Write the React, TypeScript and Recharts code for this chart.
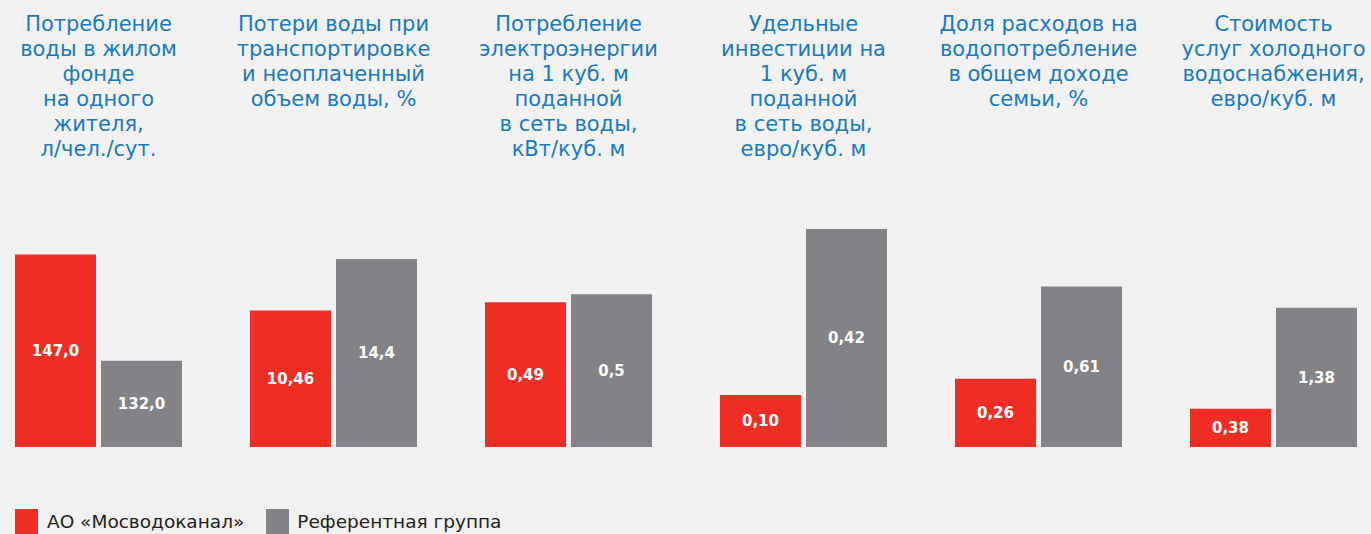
import React from "react";
import { Bar, BarChart, LabelList, XAxis, YAxis } from "recharts";

const titles = [
  ["Потребление", "воды в жилом", "фонде", "на одного", "жителя,", "л/чел./сут."],
  ["Потери воды при", "транспортировке", "и неоплаченный", "объем воды, %"],
  ["Потребление", "электроэнергии", "на 1 куб. м", "поданной", "в сеть воды,", "кВт/куб. м"],
  ["Удельные", "инвестиции на", "1 куб. м", "поданной", "в сеть воды,", "евро/куб. м"],
  ["Доля расходов на", "водопотребление", "в общем доходе", "семьи, %"],
  ["Стоимость", "услуг холодного", "водоснабжения,", "евро/куб. м"],
];

const mosvodokanalLabels = ["147,0", "10,46", "0,49", "0,10", "0,26", "0,38"];
const referenceLabels = ["132,0", "14,4", "0,5", "0,42", "0,61", "1,38"];

const mosvodokanalValues = [147.0, 10.46, 0.49, 0.1, 0.26, 0.38];
const referenceValues = [132.0, 14.4, 0.5, 0.42, 0.61, 1.38];

// each panel has its own scale in the original
const axisMin = [119.8, 0, 0.309, 0, 0, 0];
const axisMax = [150.6, 16.7, 0.5815, 0.42, 0.829, 2.16];

const seriesNames = ["АО «Мосводоканал»", "Референтная группа"];

const RED = "#ee2e24";
const GRAY = "#838387";
const BLUE = "#1a7ac0";
const FONT = "'DejaVu Sans', Verdana, sans-serif";

const PANEL_W = 235;

const Panel: React.FC<{ index: number }> = ({ index }) => {
  const data = [
    {
      name: "p" + index,
      moscow: mosvodokanalValues[index],
      reference: referenceValues[index],
      moscowLabel: mosvodokanalLabels[index],
      referenceLabel: referenceLabels[index],
    },
  ];
  const labelStyle = { fill: "#ffffff", fontSize: 15, fontWeight: 700, fontFamily: FONT };
  return (
    <div style={{ position: "absolute", left: index * PANEL_W, top: 0, width: PANEL_W, height: 534 }}>
      <div
        style={{
          position: "absolute",
          left: 98.5,
          top: 12,
          transform: "translateX(-50%)",
          whiteSpace: "nowrap",
          textAlign: "center",
          color: BLUE,
          fontFamily: FONT,
          fontSize: 21,
          lineHeight: "25px",
        }}
      >
        {titles[index].map((line, i) => (
          <div key={i}>{line}</div>
        ))}
      </div>
      <div style={{ position: "absolute", left: 0, top: 219 }}>
        <BarChart
          width={PANEL_W}
          height={238}
          data={data}
          margin={{ top: 10, right: 53, bottom: 10, left: 15 }}
          barCategoryGap={0}
          barGap={5}
        >
          <XAxis dataKey="name" hide />
          <YAxis hide domain={[axisMin[index], axisMax[index]]} allowDataOverflow />
          <Bar dataKey="moscow" fill={RED} isAnimationActive={false}>
            <LabelList dataKey="moscowLabel" position="center" style={labelStyle} />
          </Bar>
          <Bar dataKey="reference" fill={GRAY} isAnimationActive={false}>
            <LabelList dataKey="referenceLabel" position="center" style={labelStyle} />
          </Bar>
        </BarChart>
      </div>
    </div>
  );
};

export default function App() {
  return (
    <div
      style={{
        position: "fixed",
        left: 0,
        top: 0,
        width: 1371,
        height: 534,
        background: "#f1f1f1",
        overflow: "hidden",
      }}
    >
      {titles.map((_, i) => (
        <Panel key={i} index={i} />
      ))}
      <div
        style={{
          position: "absolute",
          left: 15,
          top: 509,
          display: "flex",
          alignItems: "center",
          fontFamily: FONT,
          fontSize: 18.5,
          color: "#231f20",
        }}
      >
        <span style={{ width: 23, height: 25, background: RED, display: "inline-block" }} />
        <span style={{ marginLeft: 9, marginRight: 22 }}>{seriesNames[0]}</span>
        <span style={{ width: 23, height: 25, background: GRAY, display: "inline-block" }} />
        <span style={{ marginLeft: 8 }}>{seriesNames[1]}</span>
      </div>
    </div>
  );
}
